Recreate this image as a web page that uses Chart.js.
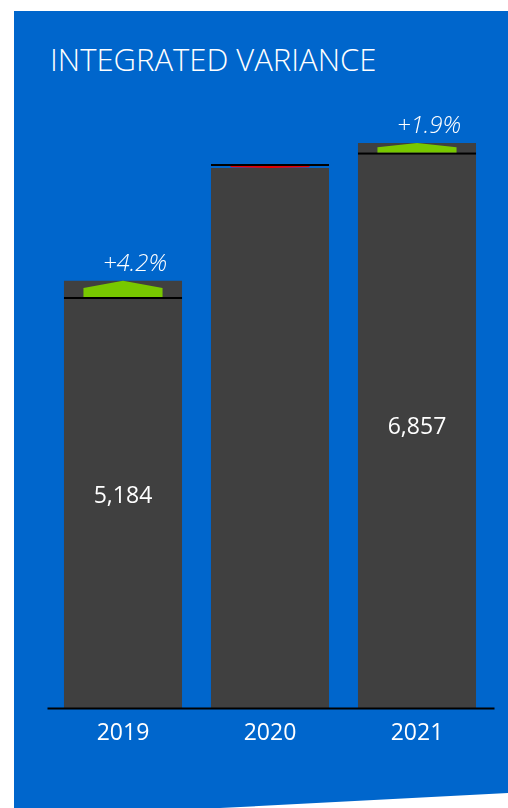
<!DOCTYPE html>
<html>
<head>
<meta charset="utf-8">
<script src="https://cdn.jsdelivr.net/npm/chart.js@4.4.1/dist/chart.umd.min.js"></script>
<style>
  html, body { margin: 0; padding: 0; background: #ffffff; }
  #panel {
    position: absolute; left: 14px; top: 11px; width: 494px; height: 797px;
    background: #0066cc;
    clip-path: polygon(0 0, 100% 0, 100% 782px, 206px 797px, 0 797px);
  }
  #title {
    position: absolute; left: 50px; top: 43px;
    font: 300 31px "Open Sans", "Noto Sans", sans-serif; line-height: 32px;
    color: #ffffff; white-space: nowrap;
  }
  #chart { position: absolute; left: 0; top: 0; }
</style>
</head>
<body>
<div id="panel"></div>
<div id="title">INTEGRATED VARIANCE</div>
<canvas id="chart" width="508" height="808"></canvas>
<script>
// data
const years = ["2019", "2020", "2021"];
const actual = [5184, 6553, 6857];
const plan = [4976, 6590, 6729];
const valueLabels = ["5,184", "", "6,857"];
const varianceLabels = ["+4.2%", "", "+1.9%"];

const FONT = '"Open Sans", "Noto Sans", sans-serif';

// plan line, variance arrow and labels
const variancePlugin = {
    id: "variance",
    afterDatasetsDraw(chart) {
        const ctx = chart.ctx;
        const y = chart.scales.y;
        const area = chart.chartArea;
        const y0 = y.getPixelForValue(0);
        const bars = chart.getDatasetMeta(0).data;

        ctx.save();
        // baseline
        ctx.fillStyle = "#000000";
        ctx.fillRect(area.left - 2, y0 - 0.5, area.right - area.left + 6, 2);

        for (let i = 0; i < bars.length; i++) {
            const x = bars[i].x;
            const w = bars[i].width;
            const yAct = y.getPixelForValue(actual[i]);
            const yPlan = y.getPixelForValue(plan[i]);

            // plan line
            ctx.fillStyle = "#000000";
            ctx.fillRect(x - w / 2, yPlan - 1, w, 2);

            // arrow
            const aw = w * 0.67;
            const up = actual[i] >= plan[i];
            const base = up ? yPlan - 1 : yPlan + 1;
            const h = base - yAct;
            const head = h * 0.45;
            ctx.fillStyle = up ? "#78c800" : "#e60000";
            ctx.beginPath();
            ctx.moveTo(x - aw / 2, base);
            ctx.lineTo(x - aw / 2, yAct + head);
            ctx.lineTo(x, yAct);
            ctx.lineTo(x + aw / 2, yAct + head);
            ctx.lineTo(x + aw / 2, base);
            ctx.closePath();
            ctx.fill();

            // value label in the middle of the bar
            ctx.fillStyle = "#ffffff";
            ctx.textAlign = "center";
            if (valueLabels[i]) {
                ctx.font = "23px " + FONT;
                ctx.textBaseline = "middle";
                ctx.fillText(valueLabels[i], x, (yAct + y0) / 2 + 2);
            }
            // variance label above
            if (varianceLabels[i]) {
                ctx.font = "italic 300 24px " + FONT;
                ctx.textBaseline = "alphabetic";
                ctx.fillText(varianceLabels[i], x + 12, Math.min(yAct, yPlan) - 10);
            }
        }
        ctx.restore();
    }
};

new Chart(document.getElementById("chart"), {
    type: "bar",
    data: {
        labels: years,
        datasets: [{
            data: actual,
            backgroundColor: "#404040",
            barPercentage: 0.803,
            categoryPercentage: 1
        }]
    },
    options: {
        responsive: false,
        devicePixelRatio: 1,
        animation: false,
        layout: { padding: { left: 49.5, right: 17.5, top: 100, bottom: 0 } },
        plugins: { legend: { display: false }, tooltip: { enabled: false } },
        scales: {
            y: { display: false, min: 0, max: 7379 },
            x: {
                grid: { display: false, drawTicks: false },
                border: { display: false },
                ticks: { color: "#ffffff", font: { family: FONT, size: 23 }, padding: 12 },
                afterFit(scale) { scale.height = 100; }
            }
        }
    },
    plugins: [variancePlugin]
});
</script>
</body>
</html>
